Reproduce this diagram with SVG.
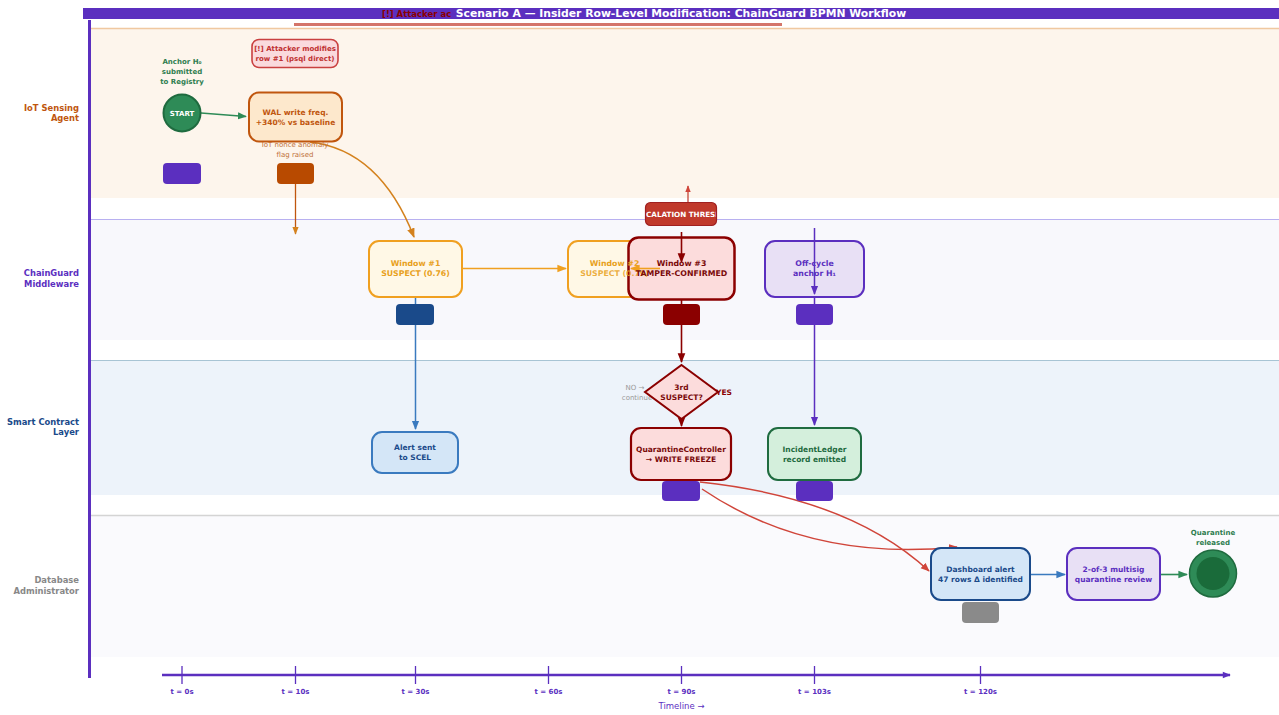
<svg xmlns="http://www.w3.org/2000/svg" width="1279" height="715" viewBox="0 0 1279 715">
<style>
text{font-family:"DejaVu Sans","Liberation Sans",sans-serif;font-weight:bold;text-anchor:middle}
.lane{font-size:8.4px;text-anchor:end}
.n{font-size:7.5px}
.w{font-size:7.8px}
.sm{font-size:7px}
.tk{font-size:7px;fill:#5b2fbf}
.box{stroke-width:2}
</style>
<defs>
<marker id="ag" viewBox="0 0 10 10" refX="9" refY="5" markerWidth="6" markerHeight="6" orient="auto"><path d="M0,1 L10,5 L0,9 z" fill="#2e8b57"/></marker>
<marker id="ao" viewBox="0 0 10 10" refX="9" refY="5" markerWidth="6" markerHeight="6" orient="auto"><path d="M0,1 L10,5 L0,9 z" fill="#d4821e"/></marker>
<marker id="ay" viewBox="0 0 10 10" refX="9" refY="5" markerWidth="6" markerHeight="6" orient="auto"><path d="M0,1 L10,5 L0,9 z" fill="#f0a020"/></marker>
<marker id="ab" viewBox="0 0 10 10" refX="9" refY="5" markerWidth="6" markerHeight="6" orient="auto"><path d="M0,1 L10,5 L0,9 z" fill="#3a7abf"/></marker>
<marker id="ar" viewBox="0 0 10 10" refX="9" refY="5" markerWidth="6" markerHeight="6" orient="auto"><path d="M0,1 L10,5 L0,9 z" fill="#8b0000"/></marker>
<marker id="al" viewBox="0 0 10 10" refX="9" refY="5" markerWidth="6" markerHeight="6" orient="auto"><path d="M0,1 L10,5 L0,9 z" fill="#d0453a"/></marker>
<marker id="ap" viewBox="0 0 10 10" refX="9" refY="5" markerWidth="6" markerHeight="6" orient="auto"><path d="M0,1 L10,5 L0,9 z" fill="#5b2fbf"/></marker>
<marker id="at" viewBox="0 0 10 10" refX="9" refY="5" markerWidth="9" markerHeight="8" markerUnits="userSpaceOnUse" orient="auto"><path d="M0,1 L10,5 L0,9 z" fill="#5b2fbf"/></marker>
<clipPath id="escclip"><rect x="646" y="202" width="70" height="24" rx="5"/></clipPath>
</defs>
<rect width="1279" height="715" fill="#ffffff"/>

<g id="lanes">
<rect x="91" y="28" width="1188" height="170" fill="#fdf5ec"/>
<line x1="91" y1="28.5" x2="1279" y2="28.5" stroke="#f0c8a0" stroke-width="1.5"/>
<rect x="91" y="219" width="1188" height="121" fill="#f8f8fc"/>
<line x1="91" y1="219.5" x2="1279" y2="219.5" stroke="#b8b0f0" stroke-width="1.2"/>
<rect x="91" y="360" width="1188" height="135" fill="#edf3fa"/>
<line x1="91" y1="360.5" x2="1279" y2="360.5" stroke="#a8c4d4" stroke-width="1.2"/>
<rect x="91" y="515" width="1188" height="142" fill="#fafafd"/>
<line x1="91" y1="515.5" x2="1279" y2="515.5" stroke="#d4d4d4" stroke-width="1.5"/>
<line x1="89.5" y1="20" x2="89.5" y2="678" stroke="#5b2fbf" stroke-width="3"/>
<text class="lane" x="79" y="111" fill="#c0560e">IoT Sensing</text>
<text class="lane" x="79" y="121" fill="#c0560e">Agent</text>
<text class="lane" x="79" y="276" fill="#5b2fbf">ChainGuard</text>
<text class="lane" x="79" y="287" fill="#5b2fbf">Middleware</text>
<text class="lane" x="79" y="425" fill="#1a4a8a">Smart Contract</text>
<text class="lane" x="79" y="435" fill="#1a4a8a">Layer</text>
<text class="lane" x="79" y="583" fill="#888888">Database</text>
<text class="lane" x="79" y="594" fill="#888888">Administrator</text>
</g>

<g id="title">
<rect x="83" y="8" width="1196" height="11" fill="#5b2fbf"/>
<rect x="294" y="23" width="488" height="3" fill="#d4756a"/>
<text x="382" y="17" font-size="8.5" fill="#8b0000" style="text-anchor:start">[!]  Attacker ac</text>
<text x="681" y="17" font-size="10.8" fill="#ffffff">Scenario A — Insider Row-Level Modification: ChainGuard BPMN Workflow</text>
</g>

<g id="connectors" fill="none">
<line x1="201" y1="113" x2="246" y2="116.5" stroke="#2e8b57" stroke-width="1.5" marker-end="url(#ag)"/>
<path d="M310,142 Q380,150 414,237" stroke="#d4821e" stroke-width="1.6" marker-end="url(#ao)"/>
<line x1="295.5" y1="184" x2="295.5" y2="234" stroke="#c0560e" stroke-width="1.3" marker-end="url(#ao)"/>
<line x1="462" y1="268.5" x2="566" y2="268.5" stroke="#f0a020" stroke-width="1.6" marker-end="url(#ay)"/>
<line x1="415.5" y1="297" x2="415.5" y2="429" stroke="#3a7abf" stroke-width="1.5" marker-end="url(#ab)"/>
<line x1="681.5" y1="300" x2="681.5" y2="362" stroke="#8b0000" stroke-width="1.6" marker-end="url(#ar)"/>
<line x1="681.5" y1="419" x2="681.5" y2="426" stroke="#8b0000" stroke-width="1.6" marker-end="url(#ar)"/>
<line x1="814.5" y1="297" x2="814.5" y2="425" stroke="#5b2fbf" stroke-width="1.5" marker-end="url(#ap)"/>
<path d="M700,482 Q850,498 929,571" stroke="#d0453a" stroke-width="1.5" marker-end="url(#al)"/>
<path d="M702,489 Q810,562 957,547" stroke="#d0453a" stroke-width="1.5" marker-end="url(#al)"/>
<line x1="1030" y1="574.5" x2="1065" y2="574.5" stroke="#3a7abf" stroke-width="1.6" marker-end="url(#ab)"/>
<line x1="1160" y1="574.5" x2="1187" y2="574.5" stroke="#2e8b57" stroke-width="1.6" marker-end="url(#ag)"/>
</g>

<g id="start">
<text class="sm" x="182" y="64" fill="#2e7d4f">Anchor H₀</text>
<text class="sm" x="182" y="74" fill="#2e7d4f">submitted</text>
<text class="sm" x="182" y="84" fill="#2e7d4f">to Registry</text>
<circle cx="182" cy="113" r="18.5" fill="#2e8b57" stroke="#1f6b3f" stroke-width="2"/>
<text x="182" y="116" font-size="7" fill="#ffffff">START</text>
<rect x="163" y="163" width="38" height="21" rx="4" fill="#5b2fbf"/>
</g>

<g id="attacker">
<rect x="252" y="39.5" width="86" height="28" rx="7" fill="#fadadd" stroke="#c94040" stroke-width="1.6"/>
<text class="sm" x="295" y="51" fill="#c03030">[!] Attacker modifies</text>
<text class="sm" x="295" y="61" fill="#c03030">row #1 (psql direct)</text>
</g>

<g id="wal">
<text x="295" y="147" font-size="7" fill="#c0703a" style="font-weight:normal">IoT nonce anomaly</text>
<text x="295" y="157" font-size="7" fill="#c0703a" style="font-weight:normal">flag raised</text>
<rect x="249" y="92.5" width="93" height="49" rx="10" fill="#fde8cc" stroke="#c0560e" class="box"/>
<text class="n" x="295.5" y="115" fill="#c0560e">WAL write freq.</text>
<text class="n" x="295.5" y="125" fill="#c0560e">+340% vs baseline</text>
<rect x="277" y="163" width="37" height="21" rx="4" fill="#b84a00"/>
</g>

<g id="window1">
<rect x="369" y="241" width="93" height="56" rx="10" fill="#fff8e6" stroke="#f0a020" class="box"/>
<text class="w" x="415.5" y="266" fill="#e8a020">Window #1</text>
<text class="w" x="415.5" y="276" fill="#e8a020">SUSPECT (0.76)</text>
<rect x="396" y="304" width="38" height="21" rx="4" fill="#1a4a8a"/>
</g>

<g id="window2">
<rect x="568" y="241" width="93" height="56" rx="10" fill="#fff8e6" stroke="#f0a020" class="box"/>
</g>

<g id="window3">
<rect x="628.5" y="237.5" width="106" height="62" rx="10" fill="#fcdcdc" stroke="#8b0000" stroke-width="2.5"/>
<text class="w" x="614.5" y="266" fill="#e8a020">Window #2</text>
<text class="w" x="614.5" y="276" fill="#e8a020" fill-opacity="0.85">SUSPECT (0.79)</text>
<line x1="660" y1="268.5" x2="631" y2="268.5" stroke="#f0a020" stroke-width="1.6" marker-end="url(#ay)"/>
<text class="w" x="681.5" y="266" fill="#7a0a0a">Window #3</text>
<text class="w" x="681.5" y="276" fill="#7a0a0a">TAMPER-CONFIRMED</text>
<rect x="663" y="304" width="37" height="21" rx="4" fill="#8b0000"/>
</g>

<g id="escalation">
<line x1="688" y1="202" x2="688" y2="186" stroke="#c0392b" stroke-width="1.2" marker-end="url(#al)"/>
<rect x="645.5" y="202.5" width="71" height="23" rx="5" fill="#c0392b" stroke="#a02020" stroke-width="1.2"/>
<g clip-path="url(#escclip)"><text x="636" y="217" font-size="7.2" fill="#ffffff" style="text-anchor:start">ESCALATION THRESHOLD</text></g>
<line x1="681.5" y1="232" x2="681.5" y2="262" stroke="#8b0000" stroke-width="1.6" marker-end="url(#ar)"/>
</g>

<g id="offcycle">
<rect x="765" y="241" width="99" height="56" rx="10" fill="#e8e0f5" stroke="#5b2fbf" class="box"/>
<text class="w" x="814.5" y="266" fill="#5b2fbf">Off-cycle</text>
<text class="w" x="814.5" y="276" fill="#5b2fbf">anchor H₁</text>
<line x1="814.5" y1="228" x2="814.5" y2="294" stroke="#5b2fbf" stroke-width="1.5" marker-end="url(#ap)"/>
<rect x="796" y="304" width="37" height="21" rx="4" fill="#5b2fbf"/>
</g>

<g id="decision">
<text x="635" y="390" font-size="7" fill="#999999" style="font-weight:normal">NO →</text>
<text x="637" y="400" font-size="7" fill="#999999" style="font-weight:normal">continue</text>
<polygon points="681.5,365 718,392 681.5,419 645,392" fill="#fcdcdc" stroke="#8b0000" stroke-width="2"/>
<text class="n" x="681.5" y="390" fill="#7a0a0a">3rd</text>
<text class="n" x="681.5" y="400" fill="#7a0a0a">SUSPECT?</text>
<text class="n" x="724" y="395" fill="#8b0000">YES</text>
</g>

<g id="alert">
<rect x="372" y="432" width="86" height="41" rx="10" fill="#d4e6f7" stroke="#3a7abf" class="box"/>
<text class="n" x="415" y="450" fill="#1a4a8a">Alert sent</text>
<text class="n" x="415" y="460" fill="#1a4a8a">to SCEL</text>
</g>

<g id="quarantine">
<rect x="631" y="428" width="100" height="52" rx="10" fill="#fcdcdc" stroke="#8b0000" stroke-width="2.2"/>
<text class="n" x="681" y="452" fill="#7a0a0a">QuarantineController</text>
<text class="n" x="681" y="462" fill="#7a0a0a">→ WRITE FREEZE</text>
<rect x="662" y="481" width="38" height="20" rx="4" fill="#5b2fbf"/>
</g>

<g id="ledger">
<rect x="768" y="428" width="93" height="52" rx="10" fill="#d4efdc" stroke="#1f6b3f" class="box"/>
<text class="n" x="814.5" y="452" fill="#1f6b3f">IncidentLedger</text>
<text class="n" x="814.5" y="462" fill="#1f6b3f">record emitted</text>
<rect x="796" y="481" width="37" height="20" rx="4" fill="#5b2fbf"/>
</g>

<g id="dashboard">
<rect x="931" y="548" width="99" height="52" rx="10" fill="#d4e6f7" stroke="#1a4a8a" class="box"/>
<text class="n" x="980.5" y="572" fill="#1a4a8a">Dashboard alert</text>
<text class="n" x="980.5" y="582" fill="#1a4a8a">47 rows Δ identified</text>
<rect x="962" y="602" width="37" height="21" rx="4" fill="#8a8a8a"/>
</g>

<g id="multisig">
<rect x="1067" y="548" width="93" height="52" rx="10" fill="#e8e0f5" stroke="#5b2fbf" class="box"/>
<text class="n" x="1113.5" y="572" fill="#5b2fbf">2-of-3 multisig</text>
<text class="n" x="1113.5" y="582" fill="#5b2fbf">quarantine review</text>
</g>

<g id="end">
<text class="sm" x="1213" y="535" fill="#2e7d4f">Quarantine</text>
<text class="sm" x="1213" y="545" fill="#2e7d4f">released</text>
<circle cx="1213" cy="573.5" r="23.5" fill="#2e8b57" stroke="#1f6b3f" stroke-width="1.5"/>
<circle cx="1213" cy="573.5" r="16.5" fill="#1a6b3a"/>
</g>

<g id="timeline">
<line x1="162" y1="675" x2="1230" y2="675" stroke="#5b2fbf" stroke-width="2.5" marker-end="url(#at)"/>
<g stroke="#5b2fbf" stroke-width="1.3">
<line x1="182" y1="666" x2="182" y2="684"/>
<line x1="295.5" y1="666" x2="295.5" y2="684"/>
<line x1="415.5" y1="666" x2="415.5" y2="684"/>
<line x1="548.5" y1="666" x2="548.5" y2="684"/>
<line x1="681.5" y1="666" x2="681.5" y2="684"/>
<line x1="814.5" y1="666" x2="814.5" y2="684"/>
<line x1="980.5" y1="666" x2="980.5" y2="684"/>
</g>
<text class="tk" x="182" y="694">t = 0s</text>
<text class="tk" x="295.5" y="694">t = 10s</text>
<text class="tk" x="415.5" y="694">t = 30s</text>
<text class="tk" x="548.5" y="694">t = 60s</text>
<text class="tk" x="681.5" y="694">t = 90s</text>
<text class="tk" x="814.5" y="694">t = 103s</text>
<text class="tk" x="980.5" y="694">t = 120s</text>
<text x="681.5" y="709" font-size="8.5" fill="#5b2fbf" style="font-weight:normal">Timeline →</text>
</g>
</svg>
